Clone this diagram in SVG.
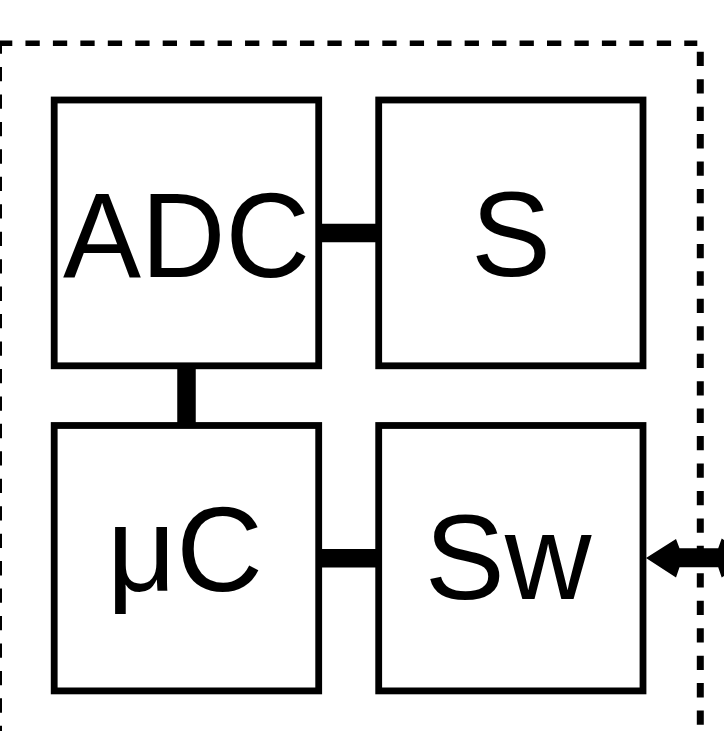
<svg xmlns="http://www.w3.org/2000/svg" width="724" height="731" viewBox="0 0 724 731">
<style>
.box{fill:#fff;stroke:#000;stroke-width:6.8}
.lbl{font-family:"Liberation Sans",Arial,sans-serif;font-size:120px;fill:#000}
.dash{fill:none;stroke:#000;stroke-dasharray:14.3 13.15}
.conn{stroke:#000;stroke-width:18.5;fill:none}
</style>
<rect width="724" height="731" fill="#fff"/>
<g id="boundary">
<path class="dash" d="M-2,43.2 H697.3" stroke-width="5.6"/>
<path class="dash" d="M-0.8,43 V740" stroke-width="5.6" stroke-dashoffset="3.45"/>
<path class="dash" d="M700.3,43 V740" stroke-width="7" stroke-dashoffset="18.7"/>
</g>
<g id="connectors">
<line class="conn" x1="321" y1="233" x2="376" y2="233"/>
<line class="conn" x1="186.5" y1="368" x2="186.5" y2="423"/>
<line class="conn" x1="321" y1="558.3" x2="376" y2="558.3"/>
<path d="M646,558 L676,539 L679.5,548.3 L718.2,548.3 L721.7,538.5 L751.7,558 L721.7,577.5 L718.2,567.3 L679.5,567.3 L676,577.5 Z" fill="#000"/>
</g>
<g id="adc">
<rect class="box" x="54.2" y="100" width="264.5" height="265.8"/>
<text class="lbl" x="63" y="277" font-size="119" textLength="247" lengthAdjust="spacingAndGlyphs">ADC</text>
</g>
<g id="s">
<rect class="box" x="378.7" y="100" width="264.3" height="265.8"/>
<text class="lbl" x="511" y="276" text-anchor="middle">S</text>
</g>
<g id="uc">
<rect class="box" x="54.2" y="425.5" width="264.5" height="265.4"/>
<text class="lbl" x="185" y="591" text-anchor="middle">μC</text>
</g>
<g id="sw">
<rect class="box" x="378.7" y="425.5" width="264.3" height="265.4"/>
<text class="lbl" x="508" y="598.5" text-anchor="middle">Sw</text>
</g>
</svg>
